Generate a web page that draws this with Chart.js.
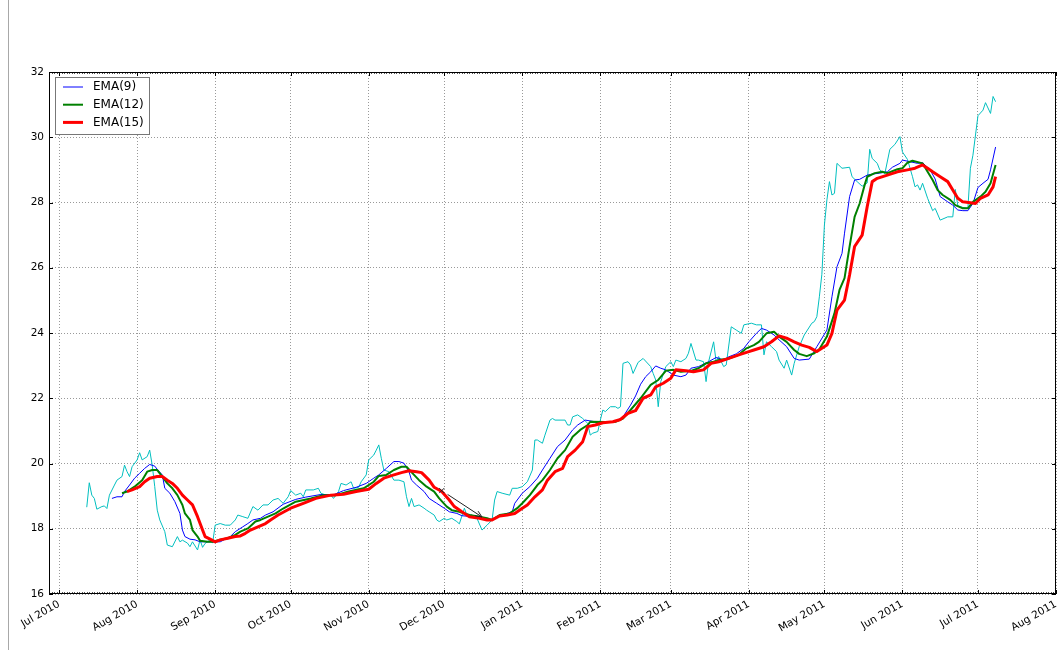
<!DOCTYPE html>
<html>
<head>
<meta charset="utf-8">
<title>EMA chart</title>
<script src="https://cdn.jsdelivr.net/npm/chart.js@4.4.1/dist/chart.umd.min.js"></script>
<style>
  html, body { margin: 0; padding: 0; background: #fff; }
  #wrap { width: 1057px; height: 650px; }
</style>
</head>
<body>
<div id="wrap"><canvas id="emaChart" width="1057" height="650"></canvas></div>
<script>
// ----- data -----
const priceDates = [
  '2010-07-12','2010-07-13','2010-07-14','2010-07-15','2010-07-16','2010-07-18','2010-07-19','2010-07-20','2010-07-21','2010-07-23','2010-07-24','2010-07-26','2010-07-27','2010-07-28','2010-07-29','2010-07-30',
  '2010-08-01','2010-08-02','2010-08-03','2010-08-05','2010-08-06','2010-08-07','2010-08-08','2010-08-09','2010-08-10','2010-08-12','2010-08-13','2010-08-15','2010-08-17','2010-08-18','2010-08-19','2010-08-21','2010-08-22','2010-08-23','2010-08-25','2010-08-26','2010-08-27','2010-08-28','2010-08-30','2010-08-31',
  '2010-09-01','2010-09-03','2010-09-05','2010-09-07','2010-09-09','2010-09-10','2010-09-12','2010-09-14','2010-09-16','2010-09-18','2010-09-20','2010-09-22','2010-09-24','2010-09-26','2010-09-28','2010-09-30',
  '2010-10-01','2010-10-03','2010-10-05','2010-10-06','2010-10-07','2010-10-10','2010-10-12','2010-10-13','2010-10-15','2010-10-17','2010-10-18','2010-10-20','2010-10-21','2010-10-23','2010-10-25','2010-10-26','2010-10-28','2010-10-29','2010-10-31',
  '2010-11-01','2010-11-03','2010-11-04','2010-11-05','2010-11-06','2010-11-07','2010-11-09','2010-11-11','2010-11-13','2010-11-15','2010-11-16','2010-11-17','2010-11-18','2010-11-19','2010-11-21','2010-11-23','2010-11-24','2010-11-25','2010-11-27','2010-11-28','2010-11-29',
  '2010-12-01','2010-12-02','2010-12-04','2010-12-06','2010-12-07','2010-12-09','2010-12-10','2010-12-12','2010-12-14','2010-12-16','2010-12-18','2010-12-20','2010-12-21','2010-12-22','2010-12-24','2010-12-27','2010-12-28','2010-12-30',
  '2011-01-01','2011-01-03','2011-01-05','2011-01-06','2011-01-07','2011-01-09','2011-01-10','2011-01-12','2011-01-13','2011-01-14','2011-01-18','2011-01-19','2011-01-20','2011-01-21','2011-01-23','2011-01-25','2011-01-27','2011-01-28','2011-01-29','2011-01-31',
  '2011-02-01','2011-02-02','2011-02-03','2011-02-05','2011-02-07','2011-02-08','2011-02-09','2011-02-10','2011-02-12','2011-02-13','2011-02-14','2011-02-16','2011-02-18','2011-02-21','2011-02-22','2011-02-23','2011-02-24','2011-02-25','2011-02-27',
  '2011-03-01','2011-03-02','2011-03-03','2011-03-05','2011-03-07','2011-03-08','2011-03-09','2011-03-11','2011-03-12','2011-03-14','2011-03-15','2011-03-16','2011-03-18','2011-03-19','2011-03-20','2011-03-22','2011-03-23','2011-03-25','2011-03-27','2011-03-29','2011-03-30',
  '2011-04-02','2011-04-04','2011-04-06','2011-04-07','2011-04-08','2011-04-10','2011-04-12','2011-04-13','2011-04-15','2011-04-16','2011-04-18','2011-04-19','2011-04-21','2011-04-23','2011-04-26','2011-04-27','2011-04-28','2011-04-29','2011-04-30',
  '2011-05-01','2011-05-02','2011-05-03','2011-05-04','2011-05-05','2011-05-06','2011-05-08','2011-05-11','2011-05-12','2011-05-14','2011-05-16','2011-05-18','2011-05-19','2011-05-20','2011-05-22','2011-05-23','2011-05-25','2011-05-27','2011-05-29','2011-05-31',
  '2011-06-01','2011-06-03','2011-06-05','2011-06-06','2011-06-07','2011-06-08','2011-06-09','2011-06-11','2011-06-13','2011-06-14','2011-06-16','2011-06-19','2011-06-21','2011-06-22','2011-06-23','2011-06-25','2011-06-27','2011-06-28','2011-06-29',
  '2011-07-01','2011-07-03','2011-07-04','2011-07-06','2011-07-07','2011-07-08'
];
const priceValues = [
  18.66,19.41,19.03,18.93,18.60,18.68,18.70,18.62,19.03,19.34,19.49,19.60,19.95,19.75,19.60,19.90,
  20.11,20.33,20.11,20.21,20.41,19.95,19.29,18.57,18.27,17.91,17.50,17.45,17.76,17.60,17.65,17.56,17.45,17.60,17.35,17.66,17.43,17.55,17.66,17.56,
  18.11,18.16,18.11,18.11,18.27,18.42,18.37,18.32,18.68,18.57,18.73,18.73,18.88,18.93,18.78,18.98,
  19.17,19.03,19.09,18.98,19.19,19.19,19.24,19.09,19.03,19.03,18.93,19.14,19.39,19.34,19.44,19.24,19.27,19.44,19.65,
  20.11,20.26,20.41,20.57,20.16,19.80,19.75,19.49,19.49,19.44,18.98,18.68,18.93,18.68,18.73,18.63,18.57,18.52,18.42,18.27,18.22,
  18.32,18.27,18.32,18.22,18.15,18.63,18.42,18.42,18.32,17.96,18.11,18.27,18.88,19.14,19.09,19.03,19.24,19.24,
  19.29,19.44,19.80,20.72,20.72,20.62,20.87,21.33,21.38,21.33,21.33,21.18,21.18,21.43,21.49,21.38,21.23,20.87,20.93,20.98,
  21.33,21.64,21.59,21.74,21.74,21.69,21.74,23.07,23.12,23.02,22.76,23.10,23.22,22.97,22.76,22.56,21.74,22.51,22.97,
  23.12,22.97,23.17,23.12,23.22,23.38,23.68,23.17,23.17,23.12,22.51,23.12,23.73,23.12,23.28,22.97,23.02,24.19,24.09,23.99,24.25,
  24.30,24.25,24.25,23.33,23.73,23.58,23.43,23.17,22.92,23.17,22.71,23.07,23.58,23.94,24.30,24.35,24.50,25.11,25.80,
  27.30,28.08,28.64,28.23,28.28,29.20,29.05,29.08,28.79,28.64,28.50,28.60,29.63,29.35,29.20,29.00,28.88,29.63,29.78,30.02,
  29.55,29.32,28.79,28.48,28.54,28.38,28.59,28.13,27.75,27.82,27.46,27.56,27.56,28.40,27.90,27.85,27.82,29.05,29.45,
  30.66,30.83,31.06,30.73,31.25,31.09
];

const ema9Dates = [
  '2010-07-22','2010-07-24','2010-07-26','2010-07-27','2010-07-29','2010-07-31',
  '2010-08-02','2010-08-04','2010-08-06','2010-08-08','2010-08-09','2010-08-11','2010-08-12','2010-08-14','2010-08-16','2010-08-18','2010-08-19','2010-08-20','2010-08-22','2010-08-24','2010-08-26','2010-08-30',
  '2010-09-03','2010-09-07','2010-09-09','2010-09-12','2010-09-14','2010-09-16','2010-09-19','2010-09-21','2010-09-24','2010-09-28',
  '2010-10-03','2010-10-07','2010-10-13','2010-10-18','2010-10-22','2010-10-27','2010-10-31',
  '2010-11-03','2010-11-05','2010-11-08','2010-11-11','2010-11-13','2010-11-15','2010-11-17','2010-11-18','2010-11-20','2010-11-23','2010-11-25','2010-11-28',
  '2010-12-01','2010-12-03','2010-12-06','2010-12-08','2010-12-12','2010-12-16','2010-12-20','2010-12-24','2010-12-28','2010-12-29',
  '2011-01-01','2011-01-04','2011-01-07','2011-01-09','2011-01-12','2011-01-15','2011-01-18','2011-01-21','2011-01-23','2011-01-26','2011-01-30',
  '2011-02-05','2011-02-07','2011-02-10','2011-02-13','2011-02-15','2011-02-17','2011-02-19','2011-02-21','2011-02-23','2011-02-25','2011-02-27',
  '2011-03-02','2011-03-05','2011-03-07','2011-03-09','2011-03-12','2011-03-16','2011-03-19','2011-03-22','2011-03-24','2011-03-27','2011-03-30',
  '2011-04-01','2011-04-04','2011-04-06','2011-04-08','2011-04-11','2011-04-13','2011-04-16','2011-04-19','2011-04-21','2011-04-25','2011-04-28',
  '2011-05-02','2011-05-04','2011-05-06','2011-05-08','2011-05-09','2011-05-11','2011-05-13','2011-05-15','2011-05-18','2011-05-20','2011-05-23','2011-05-26','2011-05-28','2011-05-31',
  '2011-06-01','2011-06-04','2011-06-07','2011-06-09','2011-06-12','2011-06-14','2011-06-16','2011-06-19','2011-06-21','2011-06-23','2011-06-25','2011-06-27','2011-06-29',
  '2011-07-01','2011-07-03','2011-07-05','2011-07-06','2011-07-08'
];
const ema9Values = [
  18.93,18.98,18.98,19.14,19.34,19.55,
  19.70,19.85,19.97,19.92,19.82,19.65,19.24,19.09,18.83,18.47,17.96,17.76,17.68,17.66,17.60,17.60,
  17.60,17.76,17.91,18.06,18.16,18.27,18.32,18.42,18.52,18.75,
  18.90,18.97,19.05,19.04,19.17,19.27,19.39,
  19.55,19.65,19.85,20.06,20.06,20.01,19.75,19.49,19.34,19.14,18.93,18.78,
  18.63,18.52,18.47,18.40,18.37,18.32,18.27,18.42,18.52,18.78,
  19.09,19.29,19.55,19.80,20.16,20.52,20.72,21.03,21.18,21.33,21.28,
  21.28,21.28,21.43,21.79,22.07,22.43,22.66,22.81,22.99,22.92,22.87,
  22.71,22.66,22.71,22.92,22.97,23.12,23.25,23.17,23.27,23.36,23.53,
  23.73,23.99,24.14,24.09,23.94,23.79,23.58,23.22,23.17,23.20,23.58,
  24.09,25.11,26.03,26.44,27.06,28.18,28.69,28.71,28.84,28.87,28.90,28.94,29.08,29.20,
  29.30,29.25,29.20,29.22,29.00,28.72,28.18,28.02,27.92,27.77,27.75,27.75,27.97,
  28.46,28.59,28.71,29.00,29.70
];

const ema12Dates = [
  '2010-07-26','2010-07-28','2010-07-31',
  '2010-08-03','2010-08-05','2010-08-07','2010-08-09','2010-08-11','2010-08-13','2010-08-15','2010-08-17','2010-08-19','2010-08-20','2010-08-22','2010-08-23','2010-08-25','2010-08-26','2010-08-29','2010-08-31',
  '2010-09-03','2010-09-06','2010-09-09','2010-09-11','2010-09-14','2010-09-17','2010-09-19','2010-09-22','2010-09-25','2010-09-28',
  '2010-10-03','2010-10-09','2010-10-14','2010-10-19','2010-10-24','2010-10-30',
  '2010-11-03','2010-11-05','2010-11-08','2010-11-11','2010-11-14','2010-11-16','2010-11-19','2010-11-21','2010-11-24','2010-11-27','2010-11-29',
  '2010-12-02','2010-12-04','2010-12-07','2010-12-11','2010-12-15','2010-12-18','2010-12-20','2010-12-23','2010-12-27','2010-12-30',
  '2011-01-01','2011-01-04','2011-01-07','2011-01-09','2011-01-12','2011-01-15','2011-01-18','2011-01-21','2011-01-24','2011-01-27','2011-01-28',
  '2011-02-03','2011-02-07','2011-02-10','2011-02-13','2011-02-17','2011-02-21','2011-02-24','2011-02-27',
  '2011-03-02','2011-03-05','2011-03-09','2011-03-12','2011-03-15','2011-03-18','2011-03-20','2011-03-24','2011-03-28','2011-03-31',
  '2011-04-03','2011-04-05','2011-04-08','2011-04-11','2011-04-13','2011-04-16','2011-04-19','2011-04-21','2011-04-24','2011-04-27','2011-04-29',
  '2011-05-02','2011-05-05','2011-05-07','2011-05-09','2011-05-11','2011-05-13','2011-05-15','2011-05-17','2011-05-18','2011-05-21','2011-05-24','2011-05-26','2011-05-30',
  '2011-06-01','2011-06-03','2011-06-05','2011-06-09','2011-06-11','2011-06-13','2011-06-15','2011-06-17','2011-06-20','2011-06-22','2011-06-25','2011-06-27','2011-06-29',
  '2011-07-02','2011-07-04','2011-07-06','2011-07-08'
];
const ema12Values = [
  19.09,19.14,19.29,
  19.49,19.75,19.80,19.80,19.60,19.39,19.24,19.03,18.73,18.47,18.27,17.96,17.76,17.63,17.60,17.60,
  17.66,17.71,17.81,17.91,18.01,18.22,18.27,18.37,18.47,18.62,
  18.83,18.93,19.03,19.03,19.14,19.24,
  19.44,19.62,19.65,19.80,19.90,19.90,19.65,19.49,19.29,19.14,18.93,
  18.68,18.57,18.52,18.42,18.37,18.32,18.27,18.42,18.47,18.63,
  18.78,19.03,19.34,19.49,19.80,20.16,20.41,20.82,21.03,21.18,21.28,
  21.27,21.28,21.38,21.64,22.00,22.41,22.56,22.84,
  22.87,22.81,22.84,22.92,23.07,23.12,23.17,23.22,23.33,23.53,
  23.63,23.73,23.99,24.04,23.89,23.73,23.48,23.36,23.29,23.38,23.50,
  23.89,24.60,25.32,25.68,26.65,27.56,27.97,28.54,28.79,28.90,28.94,28.90,29.02,
  29.05,29.22,29.28,29.20,28.94,28.69,28.38,28.23,28.08,27.92,27.82,27.82,28.02,
  28.18,28.33,28.59,29.15
];

const ema15Dates = [
  '2010-07-28','2010-07-30',
  '2010-08-02','2010-08-04','2010-08-06','2010-08-09','2010-08-11','2010-08-13','2010-08-15','2010-08-17','2010-08-19','2010-08-21','2010-08-23','2010-08-25','2010-08-27','2010-08-28','2010-08-30',
  '2010-09-01','2010-09-03','2010-09-06','2010-09-09','2010-09-11','2010-09-13','2010-09-15','2010-09-18','2010-09-21','2010-09-23','2010-09-26',
  '2010-10-01','2010-10-06','2010-10-11','2010-10-17','2010-10-22','2010-10-27',
  '2010-11-01','2010-11-04','2010-11-07','2010-11-11','2010-11-14','2010-11-17','2010-11-20','2010-11-22','2010-11-25','2010-11-27','2010-11-30',
  '2010-12-03','2010-12-05','2010-12-08','2010-12-11','2010-12-15','2010-12-18','2010-12-20','2010-12-23','2010-12-26','2010-12-29',
  '2011-01-01','2011-01-03','2011-01-06','2011-01-09','2011-01-11','2011-01-14','2011-01-17','2011-01-19','2011-01-22','2011-01-25','2011-01-27','2011-01-30',
  '2011-02-02','2011-02-06','2011-02-09','2011-02-12','2011-02-15','2011-02-18','2011-02-21','2011-02-23','2011-02-26',
  '2011-03-01','2011-03-03','2011-03-07','2011-03-10','2011-03-14','2011-03-17','2011-03-20','2011-03-24','2011-03-28',
  '2011-04-01','2011-04-03','2011-04-07','2011-04-10','2011-04-13','2011-04-16','2011-04-19','2011-04-22','2011-04-25','2011-04-28',
  '2011-05-02','2011-05-04','2011-05-06','2011-05-09','2011-05-11','2011-05-13','2011-05-16','2011-05-18','2011-05-20','2011-05-22','2011-05-26','2011-05-30',
  '2011-06-03','2011-06-06','2011-06-09','2011-06-11','2011-06-13','2011-06-16','2011-06-19','2011-06-21','2011-06-23','2011-06-25','2011-06-28','2011-06-30',
  '2011-07-02','2011-07-05','2011-07-07','2011-07-08'
];
const ema15Values = [
  19.14,19.19,
  19.29,19.44,19.55,19.60,19.60,19.49,19.39,19.24,19.03,18.88,18.73,18.37,17.96,17.76,17.68,
  17.60,17.66,17.71,17.76,17.78,17.86,17.96,18.06,18.16,18.27,18.42,
  18.63,18.78,18.93,19.03,19.06,19.14,
  19.21,19.39,19.55,19.65,19.72,19.78,19.75,19.72,19.49,19.27,19.14,
  18.88,18.68,18.52,18.37,18.32,18.27,18.27,18.39,18.42,18.47,
  18.63,18.73,18.98,19.19,19.49,19.75,19.85,20.21,20.41,20.67,21.13,21.18,
  21.25,21.28,21.35,21.54,21.62,22.00,22.10,22.35,22.46,
  22.61,22.87,22.84,22.81,22.87,23.07,23.12,23.22,23.33,
  23.43,23.48,23.58,23.73,23.91,23.84,23.73,23.63,23.56,23.43,
  23.63,23.99,24.70,25.01,25.78,26.65,27.00,27.87,28.64,28.74,28.84,28.94,
  29.00,29.05,29.15,29.05,28.94,28.79,28.64,28.38,28.13,28.02,27.99,27.97,
  28.13,28.23,28.48,28.79
];

const tickDates = ['2010-07-01','2010-08-01','2010-09-01','2010-10-01','2010-11-01','2010-12-01','2011-01-01',
                   '2011-02-01','2011-03-01','2011-04-01','2011-05-01','2011-06-01','2011-07-01','2011-08-01'];
const tickLabels = ['Jul 2010','Aug 2010','Sep 2010','Oct 2010','Nov 2010','Dec 2010','Jan 2011',
                    'Feb 2011','Mar 2011','Apr 2011','May 2011','Jun 2011','Jul 2011','Aug 2011'];
const legendLabels = ['EMA(9)', 'EMA(12)', 'EMA(15)'];

const xStart = '2010-06-27';
const xEnd = '2011-08-01';
const annotFrom = { date: '2010-11-30', value: 19.17 };
const annotTo = { date: '2010-12-16', value: 18.36 };

// ----- helpers -----
const DAY_MS = 86400000;
function toDay(s) {
    const p = s.split('-').map(Number);
    return Date.UTC(p[0], p[1] - 1, p[2]) / DAY_MS;
}
function toPoints(dates, values) {
    return dates.map((d, i) => ({ x: toDay(d), y: values[i] }));
}
const tickDays = tickDates.map(toDay);

const colors = { price: '#00bfbf', ema9: '#0000ff', ema12: '#008000', ema15: '#ff0000' };

// matplotlib-like decorations: spines, inward ticks, legend box, arrow
const mplDecor = {
    id: 'mplDecor',
    afterDraw(chart) {
        const { ctx, chartArea: a, scales: { x, y } } = chart;
        ctx.save();

        // left edge of the original figure
        ctx.strokeStyle = '#a8a8a8';
        ctx.lineWidth = 1;
        ctx.beginPath();
        ctx.moveTo(8.5, 0);
        ctx.lineTo(8.5, chart.height);
        ctx.stroke();

        // minor (daily) ticks
        ctx.strokeStyle = '#555';
        ctx.beginPath();
        for (let d = Math.ceil(x.min); d <= x.max; d++) {
            const px = Math.round(x.getPixelForValue(d)) + 0.5;
            ctx.moveTo(px, a.bottom); ctx.lineTo(px, a.bottom - 2);
            ctx.moveTo(px, a.top); ctx.lineTo(px, a.top + 2);
        }
        ctx.stroke();

        // major ticks
        ctx.strokeStyle = '#000';
        ctx.beginPath();
        tickDays.forEach(d => {
            const px = Math.round(x.getPixelForValue(d)) + 0.5;
            ctx.moveTo(px, a.bottom); ctx.lineTo(px, a.bottom - 4);
            ctx.moveTo(px, a.top); ctx.lineTo(px, a.top + 4);
        });
        for (let v = y.min; v <= y.max; v += 2) {
            const py = Math.round(y.getPixelForValue(v)) + 0.5;
            ctx.moveTo(a.left, py); ctx.lineTo(a.left + 4, py);
            ctx.moveTo(a.right, py); ctx.lineTo(a.right - 4, py);
        }
        ctx.stroke();

        // spines
        ctx.strokeRect(a.left + 0.5, a.top + 0.5, a.right - a.left - 1, a.bottom - a.top - 1);

        // annotation arrow
        const x0 = x.getPixelForValue(toDay(annotFrom.date)), y0 = y.getPixelForValue(annotFrom.value);
        const x1 = x.getPixelForValue(toDay(annotTo.date)), y1 = y.getPixelForValue(annotTo.value);
        ctx.strokeStyle = '#222';
        ctx.lineWidth = 1;
        ctx.beginPath();
        ctx.moveTo(x0 - 2.5, y0 - 2.5); ctx.lineTo(x0 + 2.5, y0 + 2.5);
        ctx.moveTo(x0 + 2.5, y0 - 2.5); ctx.lineTo(x0 - 2.5, y0 + 2.5);
        const ang = Math.atan2(y1 - y0, x1 - x0);
        ctx.moveTo(x0 + Math.cos(ang) * 7, y0 + Math.sin(ang) * 7);
        ctx.lineTo(x1, y1);
        ctx.moveTo(x1 - Math.cos(ang - 0.4) * 7, y1 - Math.sin(ang - 0.4) * 7);
        ctx.lineTo(x1, y1);
        ctx.lineTo(x1 - Math.cos(ang + 0.4) * 7, y1 - Math.sin(ang + 0.4) * 7);
        ctx.stroke();

        // legend
        const lx = a.left + 6, ly = a.top + 5;
        ctx.fillStyle = '#fff';
        ctx.fillRect(lx + 0.5, ly + 0.5, 94, 57);
        ctx.strokeStyle = '#777';
        ctx.strokeRect(lx + 0.5, ly + 0.5, 94, 57);
        const legendColors = [colors.ema9, colors.ema12, colors.ema15];
        const legendWidths = [1, 2, 3];
        ctx.font = '12px "DejaVu Sans"';
        ctx.textBaseline = 'middle';
        legendLabels.forEach((label, i) => {
            const ry = ly + 10 + i * 17.7;
            ctx.strokeStyle = legendColors[i];
            ctx.lineWidth = legendWidths[i];
            ctx.beginPath();
            ctx.moveTo(lx + 8, ry);
            ctx.lineTo(lx + 28, ry);
            ctx.stroke();
            ctx.fillStyle = '#000';
            ctx.fillText(label, lx + 38, ry);
        });
        ctx.restore();
    }
};

Chart.defaults.font.family = '"DejaVu Sans", sans-serif';
Chart.defaults.font.size = 10;
Chart.defaults.color = '#000';

const gridStyle = { color: 'rgba(0,0,0,0.4)', lineWidth: 1, drawTicks: false };
const borderStyle = { display: false, dash: [1, 2] };

new Chart(document.getElementById('emaChart').getContext('2d'), {
    type: 'line',
    data: {
        datasets: [
            { label: 'price', data: toPoints(priceDates, priceValues), borderColor: colors.price, borderWidth: 1, order: 4 },
            { label: legendLabels[0], data: toPoints(ema9Dates, ema9Values), borderColor: colors.ema9, borderWidth: 1, order: 3 },
            { label: legendLabels[1], data: toPoints(ema12Dates, ema12Values), borderColor: colors.ema12, borderWidth: 2, order: 2 },
            { label: legendLabels[2], data: toPoints(ema15Dates, ema15Values), borderColor: colors.ema15, borderWidth: 3, order: 1 }
        ]
    },
    options: {
        responsive: false,
        devicePixelRatio: 1,
        animation: false,
        layout: { padding: { top: 72, right: 1, left: 0, bottom: 0 } },
        elements: {
            point: { radius: 0, hoverRadius: 0 },
            line: { tension: 0, fill: false, borderJoinStyle: 'round' }
        },
        plugins: { legend: { display: false }, tooltip: { enabled: false } },
        scales: {
            x: {
                type: 'linear',
                min: toDay(xStart),
                max: toDay(xEnd),
                afterBuildTicks: s => { s.ticks = tickDays.map(v => ({ value: v })); },
                afterFit: s => { s.height = 56; s.paddingLeft = 0; s.paddingRight = 0; },
                ticks: {
                    autoSkip: false, minRotation: 30, maxRotation: 30, padding: 4,
                    font: { size: 10.5 },
                    callback: v => tickLabels[tickDays.indexOf(v)] || ''
                },
                grid: gridStyle,
                border: borderStyle
            },
            y: {
                min: 16,
                max: 32,
                afterFit: s => { s.width = 49; s.paddingTop = 0; s.paddingBottom = 0; },
                ticks: { stepSize: 2, padding: 5, font: { size: 10.5 } },
                grid: gridStyle,
                border: borderStyle
            }
        }
    },
    plugins: [mplDecor]
});
</script>
</body>
</html>
